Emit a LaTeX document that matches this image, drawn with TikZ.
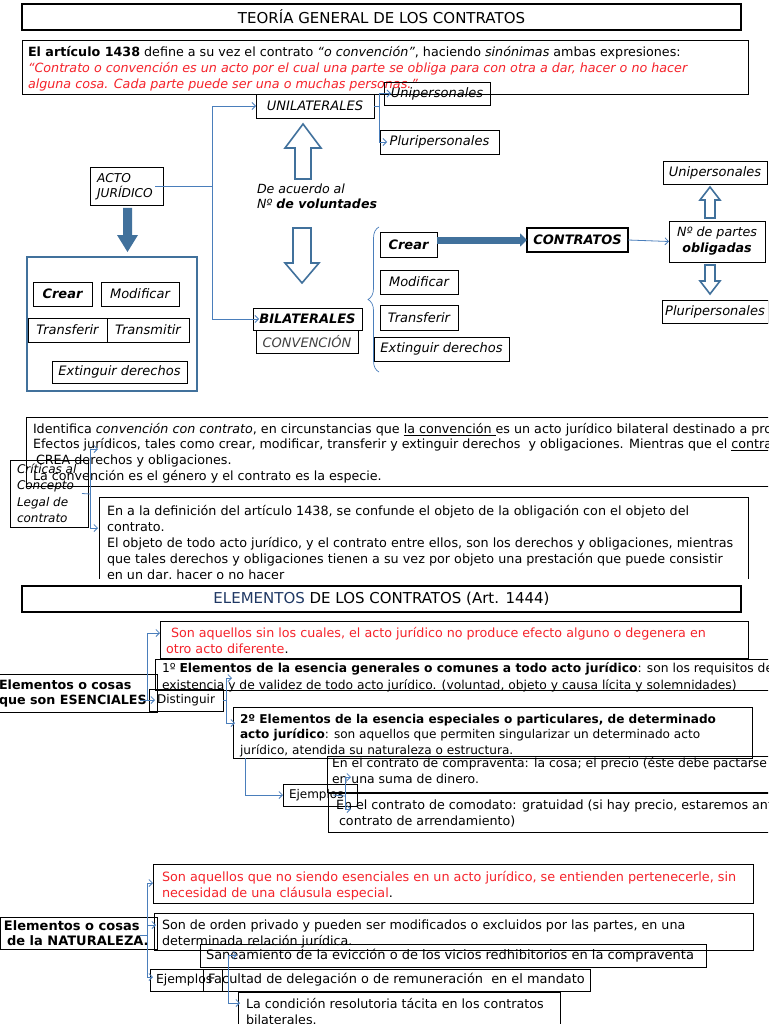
\documentclass[tikz,border=0pt]{standalone}
\usepackage{fontspec}
\setmainfont{DejaVu Sans}
\usetikzlibrary{arrows.meta,calc,decorations.pathreplacing}
\definecolor{cblue}{HTML}{4A7EBB}
\definecolor{dblue}{HTML}{41719C}
\definecolor{navy}{HTML}{1F3864}
\definecolor{rtxt}{HTML}{F5232B}
\begin{document}
\begin{tikzpicture}[x=1pt,y=-1pt,
  every node/.style={inner sep=0pt, outer sep=0pt},
  bx/.style={draw=black, line width=0.8pt, anchor=north west, rectangle},
  tt/.style={anchor=north west, align=left, font=\fontsize{12}{15.8}\selectfont},
  sm/.style={font=\fontsize{13}{15}\selectfont\itshape},
  smb/.style={font=\fontsize{13}{15}\selectfont\bfseries\itshape},
  conn/.style={draw=cblue, line width=0.8pt, -{Straight Barb[length=3.5pt,width=7pt]}},
  cline/.style={draw=cblue, line width=0.8pt},
  harrow/.style={draw=dblue, line width=1.6pt, fill=white, line join=miter},
]
\useasboundingbox (0,0) rectangle (768,1024);
\clip (0,0) rectangle (768,1024);
\fill[white] (0,0) rectangle (768,1024);

% ---------------- Section 1 ----------------
\node[bx, line width=1.6pt, minimum width=719pt, minimum height=26pt, font=\fontsize{15}{18}\selectfont] (title1) at (22,4) {TEORÍA GENERAL DE LOS CONTRATOS};

\node[bx, minimum width=726pt, minimum height=54pt] (def) at (22,40) {};
\node[tt, font=\fontsize{12.7}{16}\selectfont] (deft) at (28,46) {\textbf{El artículo 1438} define a su vez el contrato \textit{“o convención”}, haciendo \textit{sinónimas} ambas expresiones:\\
{\color{rtxt}\itshape “Contrato o convención es un acto por el cual una parte se obliga para con otra a dar, hacer o no hacer}\\
{\color{rtxt}\itshape alguna cosa. Cada parte puede ser una o muchas personas.”}};

\node[bx, sm, minimum width=118pt, minimum height=24pt] (unil) at (256,94) {UNILATERALES};
\node[bx, sm, minimum width=106pt, minimum height=23pt] (unip1) at (384,82) {Unipersonales};
\node[bx, sm, minimum width=119pt, minimum height=24pt] (plurip1) at (380,130) {Pluripersonales};
\coordinate (k1) at ([xshift=5pt]unil.east);
\draw[cline] (unil.east) -- (k1);
\draw[conn] (k1) |- ([xshift=7pt]unip1.west);
\draw[conn] (k1) |- ([xshift=7pt]plurip1.west);

\node[bx, minimum width=73pt, minimum height=38pt] (acto) at (90,167) {};
\node[tt, font=\fontsize{12.2}{15}\selectfont\itshape] (actot) at (97,173) {ACTO\\JURÍDICO};

\node[bx, smb, minimum width=109pt, minimum height=22pt] (bil) at (253,308) {BILATERALES};
\node[bx, sm, minimum width=102pt, minimum height=23pt, text=black!75] (conv) at (256,330) {CONVENCIÓN};

\coordinate (j1) at (212,186);
\draw[cline] ([xshift=-8pt]acto.east) -- (j1);
\draw[conn] (j1) |- (unil.west);
\draw[conn] (j1) |- ([xshift=6pt]bil.west);

% hollow arrows
\draw[harrow] (303,124) -- (321,148) -- (311,148) -- (311,179) -- (295,179) -- (295,148) -- (285,148) -- cycle;
\node[anchor=west, font=\fontsize{12.6}{15}\selectfont\itshape] (acuerdo) at (257,189) {De acuerdo al};
\node[anchor=west, font=\fontsize{12.6}{15}\selectfont\itshape] (voluntades) at (257,204) {Nº \textbf{de voluntades}};
\draw[harrow] (293,228) -- (311,228) -- (311,263) -- (319,263) -- (302,283) -- (285,263) -- (293,263) -- cycle;

% solid arrow
\fill[dblue] (123,208) -- (132,208) -- (132,235) -- (138,235) -- (127.5,252) -- (117,235) -- (123,235) -- cycle;

% blue box
\node[bx, draw=dblue, line width=1.8pt, minimum width=170pt, minimum height=134pt] (bigbox) at (27,257) {};
\node[bx, smb, minimum width=59pt, minimum height=24pt] (crear1) at (33,282) {Crear};
\node[bx, sm, minimum width=78pt, minimum height=24pt] (modif1) at (101,282) {Modificar};
\node[bx, sm, minimum width=79pt, minimum height=24pt] (transf1) at (28,318) {Transferir};
\node[bx, sm, minimum width=82pt, minimum height=24pt] (transm1) at (107,318) {Transmitir};
\node[bx, sm, minimum width=135pt, minimum height=22pt] (ext1) at (52,361) {Extinguir derechos};

% right group
\draw[cblue, line width=0.7pt, decorate, decoration={brace, amplitude=11pt, aspect=0.5}] (379,372) -- (379,227);
\node[bx, smb, minimum width=57pt, minimum height=25pt] (crear2) at (380,232) {Crear};
\node[bx, sm, minimum width=78pt, minimum height=24pt] (modif2) at (380,270) {Modificar};
\node[bx, sm, minimum width=78pt, minimum height=25pt] (transf2) at (380,305) {Transferir};
\node[bx, sm, minimum width=135pt, minimum height=24pt] (ext2) at (374,337) {Extinguir derechos};
\node[bx, smb, line width=1.4pt, minimum width=101pt, minimum height=24pt] (contr) at (527,228) {CONTRATOS};
\draw[dblue, line width=7pt, -{Triangle[length=7pt,width=13pt]}] (crear2.east |- contr.west) -- (contr.west);

\node[bx, minimum width=96pt, minimum height=41pt, align=center, font=\fontsize{12.7}{16}\selectfont\itshape] (nump) at (669,221) {Nº de partes\\\textbf{obligadas}};
\draw[conn] (contr.east) -- (nump.west);
\node[bx, sm, minimum width=104pt, minimum height=23pt] (unip2) at (663,161) {Unipersonales};
\node[bx, sm, minimum width=106pt, minimum height=23pt] (plurip2) at (662,300) {Pluripersonales};
\draw[harrow] (710,187) -- (720,200) -- (715,200) -- (715,218) -- (705,218) -- (705,200) -- (700,200) -- cycle;
\draw[harrow] (705,265) -- (715,265) -- (715,281) -- (720,281) -- (710,294) -- (700,281) -- (705,281) -- cycle;

% ---------------- Section 2 ----------------
\node[bx, minimum width=764pt, minimum height=69pt] (c1) at (26,417) {};
\node[tt, font=\fontsize{12.7}{15.8}\selectfont] (c1t) at (33,423) {Identifica \textit{convención con contrato}, en circunstancias que \underline{la convención }es un acto jurídico bilateral destinado a producir\\
Efectos jurídicos, tales como crear, modificar, transferir y extinguir derechos\ \ y obligaciones. Mientras que el \underline{contrato}\\
\hspace{3pt}CREA derechos y obligaciones.\\
La convención es el género y el contrato es la especie.};

\node[bx, minimum width=78pt, minimum height=67pt] (crit) at (10,460) {};
\node[tt, font=\fontsize{12}{16.3}\selectfont\itshape] (critt) at (17,464) {Críticas al\\Concepto\\Legal de\\contrato};
\coordinate (k0) at (90,494);
\coordinate (a0) at (98,449);
\coordinate (a0b) at (98,528);
\draw[cline] ([xshift=-6pt]crit.east) -- (k0);
\draw[conn] (k0) |- (a0);
\draw[conn] (k0) |- (a0b);
\begin{scope}
\clip (0,0) rectangle (768,578);
\node[bx, minimum width=649pt, minimum height=100pt] (c2) at (99,497) {};
\node[tt, font=\fontsize{12.75}{16}\selectfont] (c2t) at (107,505) {En a la definición del artículo 1438, se confunde el objeto de la obligación con el objeto del\\
contrato.\\
El objeto de todo acto jurídico, y el contrato entre ellos, son los derechos y obligaciones, mientras\\
que tales derechos y obligaciones tienen a su vez por objeto una prestación que puede consistir\\
en un dar, hacer o no hacer};
\end{scope}

% ---------------- Section 3 ----------------
\node[bx, line width=1.6pt, minimum width=719pt, minimum height=26pt, font=\fontsize{15}{18}\selectfont] (title2) at (22,586) {{\color{navy}ELEMENTOS} DE LOS CONTRATOS (Art. 1444)};

\node[bx, minimum width=588pt, minimum height=37pt] (rb1) at (160,621) {};
\node[tt, font=\fontsize{12.7}{16}\selectfont] (rb1t) at (166,627) {{\color{rtxt}\hspace{5pt}Son aquellos sin los cuales, el acto jurídico no produce efecto alguno o degenera en}\\
{\color{rtxt}otro acto diferente}.};

\node[bx, minimum width=640pt, minimum height=31pt] (e1) at (155,659) {};
\node[tt, font=\fontsize{12.3}{17}\selectfont] (e1t) at (162,663) {1º \textbf{Elementos de la esencia generales o comunes a todo acto jurídico}: son los requisitos de\\
existencia y de validez de todo acto jurídico. (voluntad, objeto y causa lícita y solemnidades)};

\node[bx, minimum width=162pt, minimum height=38pt] (esen) at (-5,674) {};
\node[tt, font=\fontsize{12.7}{15}\selectfont\bfseries] (esent) at (-1,680) {Elementos o cosas\\que son ESENCIALES};

\node[bx, minimum width=74pt, minimum height=22pt, font=\fontsize{12}{15}\selectfont] (dist) at (149,689) {Distinguir};
\coordinate (k2) at (147,700);
\draw[cline] ([xshift=-17pt]esen.east |- k2) -- (k2);
\coordinate (a1) at (160,633);
\draw[conn] (k2) |- (a1);
\draw[conn] (k2) -- ([xshift=6pt]dist.west);

\node[bx, minimum width=519pt, minimum height=51pt] (e2) at (233,707) {};
\node[tt, font=\fontsize{12.1}{15.6}\selectfont] (e2t) at (240,714) {\textbf{2º Elementos de la esencia especiales o particulares, de determinado}\\
\textbf{acto jurídico}: son aquellos que permiten singularizar un determinado acto\\
jurídico, atendida su naturaleza o estructura.};

\coordinate (k3) at (226,700);
\coordinate (a2) at (232,678);
\coordinate (a3) at (235,723);
\draw[cline] (dist.east) -- (k3);
\draw[conn] (k3) |- (a2);
\draw[conn] (k3) |- (a3);

\node[bx, minimum width=74pt, minimum height=22pt] (ejem1) at (283,784) {};
\node[anchor=west, font=\fontsize{12}{15}\selectfont] (ejem1t) at (289,795) {Ejemplos};
\draw[conn] ([xshift=12pt]e2.south west) |- (ejem1.west);

\node[bx, minimum width=470pt, minimum height=36pt] (cv) at (327,756) {};
\node[tt, font=\fontsize{12.4}{15.5}\selectfont] (cvt) at (332,758) {En el contrato de compraventa: la cosa; el precio (éste debe pactarse\\
en una suma de dinero.};
\node[bx, minimum width=470pt, minimum height=39pt] (cm) at (328,793) {};
\node[tt, font=\fontsize{12.7}{16}\selectfont] (cmt) at (336,800) {En el contrato de comodato: gratuidad (si hay precio, estaremos ante un\\
\hspace{3pt}contrato de arrendamiento)};
\coordinate (k4) at (345,796);
\coordinate (a4) at (351,777);
\coordinate (a5) at (351,809);
\draw[cline] ([xshift=-24pt]ejem1.east) -- (k4);
\draw[conn] (k4) |- (a4);
\draw[conn] (k4) |- (a5);

% ---------------- Section 4 ----------------
\node[bx, minimum width=600pt, minimum height=39pt] (rb2) at (153,864) {};
\node[tt, font=\fontsize{12.8}{16}\selectfont] (rb2t) at (162,871) {{\color{rtxt}Son aquellos que no siendo esenciales en un acto jurídico, se entienden pertenecerle, sin}\\
{\color{rtxt}necesidad de una cláusula especial}.};

\node[bx, minimum width=157pt, minimum height=32pt] (nat) at (0,917) {};
\node[tt, font=\fontsize{13}{15}\selectfont\bfseries] (natt) at (4,921) {Elementos o cosas\\\hspace{3pt}de la NATURALEZA.};

\node[bx, minimum width=599pt, minimum height=37pt] (op) at (154,913) {};
\node[tt, font=\fontsize{12.7}{16}\selectfont] (opt) at (162,920) {Son de orden privado y pueden ser modificados o excluidos por las partes, en una\\
determinada relación jurídica.};

\node[bx, minimum width=506pt, minimum height=23pt] (san) at (200,944) {};
\node[anchor=west, font=\fontsize{13}{15}\selectfont] (sant) at (206,956) {Saneamiento de la evicción o de los vicios redhibitorios en la compraventa};

\node[bx, minimum width=53pt, minimum height=22pt] (ejem2) at (150,969) {};
\node[bx, minimum width=19pt, minimum height=22pt] (sm2) at (203,969) {};
\node[bx, minimum width=368pt, minimum height=22pt] (fac) at (222,969) {};
\node[anchor=west, font=\fontsize{12.4}{15}\selectfont] (ejem2t) at (156,980) {Ejemplos};
\node[anchor=west, font=\fontsize{12.9}{15}\selectfont] (fact) at (208,980) {Facultad de delegación o de remuneración\ \ en el mandato};

\node[bx, minimum width=322pt, minimum height=45pt] (cond) at (238,992) {};
\node[tt, font=\fontsize{12.7}{16}\selectfont] (condt) at (246,998) {La condición resolutoria tácita en los contratos\\
bilaterales.};

\coordinate (k5) at (147,935);
\coordinate (a6) at (153,883);
\coordinate (a7) at (156,925);
\coordinate (a8) at (153,977);
\draw[cline] ([xshift=-17pt]nat.east |- k5) -- (k5);
\draw[conn] (k5) |- (a6);
\draw[conn] (k5) |- (a7);
\draw[conn] (k5) |- (a8);

\coordinate (k6) at (228,980);
\coordinate (a9) at (237,955);
\coordinate (a10) at (240,1003);
\draw[conn] (k6) |- (a9);
\draw[conn] (k6) |- (a10);
\end{tikzpicture}
\end{document}
